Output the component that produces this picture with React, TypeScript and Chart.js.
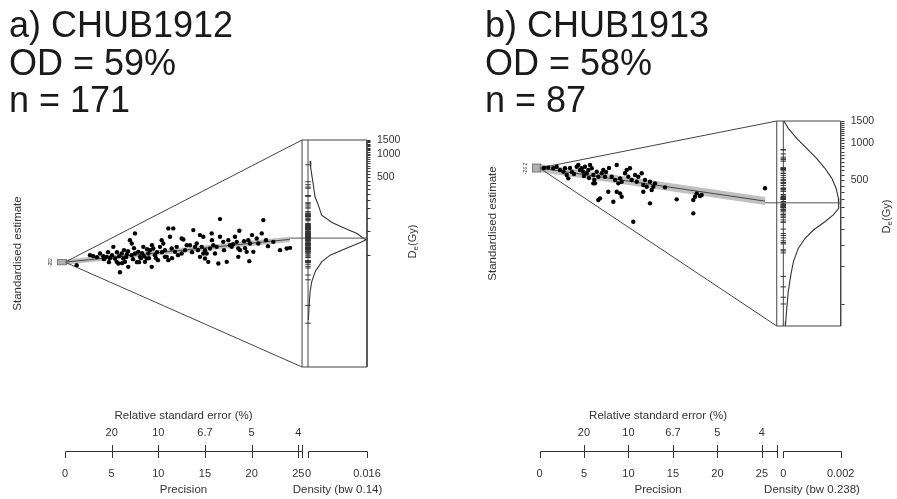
import React, { useEffect, useRef } from "react";
import { Chart, registerables } from "chart.js";

Chart.register(...registerables);

const FONT = '"Liberation Sans", Arial, Helvetica, sans-serif';

// ---------------- Panel a) CHUB1912 ----------------
const titleLinesA = ["a) CHUB1912", "OD = 59%", "n = 171"];
const precisionA = [
  1.25, 2.68, 3.03, 3.75, 4.10, 4.47, 4.82, 5.18, 5.36, 5.54,
  5.71, 5.89, 6.08, 6.25, 6.43, 6.78, 6.96, 7.15, 7.50, 7.15,
  7.50, 7.85, 8.04, 8.39, 8.57, 8.75, 8.93, 9.11, 9.29, 9.46,
  9.64, 10.36, 10.53, 10.71, 10.90, 11.07, 11.07, 11.25, 11.60, 11.43,
  11.79, 11.97, 10.18, 10.71, 4.61, 5.04, 6.54, 6.75, 7.29, 7.71,
  8.14, 9.86, 9.96, 12.11, 5.79, 6.32, 8.25, 8.79, 12.68, 13.04,
  13.75, 14.46, 14.82, 14.65, 15.00, 15.18, 14.82, 14.46, 15.00, 15.35,
  15.72, 15.89, 16.25, 16.07, 16.43, 16.61, 16.61, 16.96, 17.33, 17.50,
  17.68, 17.86, 18.21, 18.40, 18.57, 18.75, 18.68, 18.57, 19.47, 19.64,
  19.82, 19.75, 20.18, 20.54, 20.71, 21.08, 21.25, 22.32, 23.04, 23.75,
  24.11, 12.50, 13.39, 13.93, 15.54, 19.29, 18.00, 14.11, 12.50,
  3.43, 4.18, 4.71, 5.57, 6.11, 6.64, 7.39, 7.93, 8.46, 9.00,
  9.32, 9.75, 10.39, 11.46, 12.86, 13.61, 14.25, 15.75, 17.04, 19.18,
  20.04, 21.54, 21.75,
];
const stdEstimateA = [
  -2.26, 5.28, 4.52, 6.56, 4.52, 3.99, 3.01, 11.53, 2.79, 0.23,
  -0.98, -7.54, 6.56, 2.79, 0.23, -3.54, 16.58, 14.09, 21.63, 5.28,
  6.56, 7.76, 3.99, 11.53, 0.23, 2.79, 6.56, 9.04, -3.54, 10.32,
  5.28, 16.58, 14.09, 9.04, 3.99, 1.51, 25.40, 19.07, 25.40, 10.32,
  7.76, 11.53, 11.53, 3.99, 7.54, 5.28, 3.77, 8.29, 2.26, 0,
  3.01, 7.54, 1.51, 5.28, 4.52, 9.04, 6.78, 9.80, 17.11, 12.81,
  24.12, 20.35, 19.07, 11.53, 9.04, 6.56, 6.56, 3.99, 2.79, 0.23,
  21.63, 12.81, 11.53, 6.56, -0.98, 32.40, 19.07, 15.30, 0.23, 16.58,
  12.81, 11.53, 19.07, 15.30, 10.32, 9.04, 23.59, 3.99, 7.76, 16.58,
  14.09, 0.75, 7.76, 17.86, 14.09, 21.63, 31.65, 15.30, 9.04, 10.32,
  10.78, 6.56, 12.81, 11.53, 10.32, 10.55, 13.56, 14.09, 17.86,
  3.77, 2.26, 0, 7.54, -0.75, 6.03, 10.55, 0, 4.52, 3.01,
  12.81, 3.01, 7.54, 3.01, 9.04, 7.54, 9.04, 16.58, 9.04, 15.83,
  20.35, 16.58, 12.06,
];
const kdeDeA = [804, 653, 395, 279, 218, 162, 130, 109, 94, 81, 78, 72, 60, 49.5, 40.5, 30.1, 22.4, 16.6, 11.2, 7.2];
const kdeDensityA = [
  0.00055, 0.00074, 0.00144, 0.0019, 0.0028, 0.0037, 0.0065, 0.0101, 0.0133, 0.0151,
  0.0158, 0.0142, 0.0101, 0.006, 0.0037, 0.0019, 0.001, 0.00055, 0.0003, 0.0001,
];
const referenceDeA = 40.2;
const centralDeA = 82;
const minDeA = 1.8;
const maxDeA = 1500;
const bandwidthA = "0.14";
const densityTickValuesA = [0, 0.016];
const densityTickLabelsA = ["0", "0.016"];

// ---------------- Panel b) CHUB1913 ----------------
const titleLinesB = ["b) CHUB1913", "OD = 58%", "n = 87"];
const precisionB = [
  0.99, 1.55, 1.93, 2.30, 2.68, 2.87, 3.06, 3.24, 4.18, 4.36,
  4.55, 4.74, 4.92, 5.11, 5.31, 5.49, 5.68, 5.87, 6.05, 6.16,
  6.24, 6.43, 6.61, 6.99, 7.36, 7.17, 8.68, 7.73, 6.80, 6.61,
  8.30, 8.12, 8.49, 8.86, 9.05, 9.24, 9.61, 9.80, 9.98, 10.17,
  10.36, 10.74, 10.93, 11.11, 11.49, 11.67, 11.86, 12.05, 12.42, 8.68,
  9.05, 9.24, 10.54, 12.42, 11.67, 12.98, 12.79, 12.61, 14.11, 15.42,
  17.29, 17.48, 17.67, 18.04, 18.23, 17.29, 25.35, 6.05, 3.65, 3.43,
  0.51, 7.48, 7.81, 5.56, 5.00, 3.88,
];
const stdEstimateB = [
  0.2, -0.15, 0.65, -0.99, -1.84, -0.15, -3.48, -5.12, 0.65, 1.49,
  -0.99, -0.15, -1.84, 0.65, -2.63, -0.99, 1.49, -0.15, -3.48, -5.96,
  -7.60, -1.84, -4.32, -2.63, -4.32, -0.99, 1.49, -11.77, -15.05, -15.90,
  -16.74, -4.32, -5.96, -7.60, -5.12, -6.81, -2.63, -0.99, -4.32, -0.15,
  -5.96, -3.48, -6.81, -4.32, -2.63, -8.45, -5.96, -9.29, -6.81, -11.77,
  -12.57, -14.26, -26.68, -17.54, -11.77, -7.60, -9.29, -10.93, -9.59, -15.55,
  -15.90, -14.26, -12.57, -13.91, -13.41, -22.50, -10.08, -7.60, -1.99, 0,
  0, -1.99, 0, -4.97, -3.97, -2.98,
];
const kdeDeB = [1500, 1309, 1086, 902, 749, 622, 516, 429, 356, 324, 295, 261, 230, 197, 169, 140, 109, 85, 62, 45.8, 35.7, 33];
const kdeDensityB = [
  0.00002, 0.000174, 0.000467, 0.000815, 0.00116, 0.00145, 0.00169, 0.00184, 0.00192, 0.00194,
  0.00192, 0.00174, 0.00145, 0.00105, 0.00076, 0.00052, 0.00035, 0.00026, 0.00017, 0.00012,
  0.000084, 0.00007,
];
const referenceDeB = 625;
const centralDeB = 327;
const minDeB = 33;
const maxDeB = 1500;
const bandwidthB = "0.238";
const densityTickValuesB = [0, 0.002];
const densityTickLabelsB = ["0", "0.002"];

// ---------------- Shared tick labels ----------------
const precisionTicks = [0, 5, 10, 15, 20, 25];
const rseTickPrecision = [5, 10, 15, 20, 25];
const rseTickLabels = ["20", "10", "6.7", "5", "4"];
const deLabelValues = [500, 1000, 1500];
const deMinorTicks = [
  50, 100, 150, 200, 250, 300, 350, 400, 450, 500, 550, 600, 650, 700, 750,
  800, 850, 900, 950, 1000, 1050, 1100, 1150, 1200, 1250, 1300, 1350, 1400, 1450, 1500,
];
const stdTicks = [-2, 0, 2];

// ---------------- Layout (positions only) ----------------
const layoutA = {
  left: 0, width: 448, titleLeft: 9,
  pad: { left: 65, right: 81, top: 140, bottom: 132 },
  pEnd: 25.4, pBand: 24.1, pDens0: 26.04, pRight: 32.36,
  deLabelDy: -12,
};
const layoutB = {
  left: 448, width: 449, titleLeft: 37,
  pad: { left: 91.5, right: 56.3, top: 121, bottom: 173 },
  pEnd: 26.67, pBand: 25.35, pDens0: 27.41, pRight: 33.86,
  deLabelDy: -7,
};

const panelA = {
  title: titleLinesA, precision: precisionA, std: stdEstimateA, kdeDe: kdeDeA, kdeDensity: kdeDensityA,
  referenceDe: referenceDeA, centralDe: centralDeA, minDe: minDeA, maxDe: maxDeA, bw: bandwidthA,
  densTicks: densityTickValuesA, densLabels: densityTickLabelsA, layout: layoutA,
};
const panelB = {
  title: titleLinesB, precision: precisionB, std: stdEstimateB, kdeDe: kdeDeB, kdeDensity: kdeDensityB,
  referenceDe: referenceDeB, centralDe: centralDeB, minDe: minDeB, maxDe: maxDeB, bw: bandwidthB,
  densTicks: densityTickValuesB, densLabels: densityTickLabelsB, layout: layoutB,
};

function buildChart(canvas: HTMLCanvasElement, P: any) {
  const L = P.layout;
  const lnRef = Math.log(P.referenceDe);
  const toS = (de: number) => (Math.log(de) - lnRef) * L.pEnd;
  const sMax = toS(P.maxDe);
  const sMin = toS(P.minDe);
  const cSlope = Math.log(P.centralDe) - lnRef;
  const densMax = P.densTicks[P.densTicks.length - 1];
  const dScale = (L.pRight - L.pDens0) / densMax;

  const points = P.precision.map((p: number, i: number) => ({ x: p, y: P.std[i] }));
  const rug = P.precision.map((p: number, i: number) => ({ x: L.pDens0, y: (P.std[i] / p) * L.pEnd }));
  const kde = P.kdeDe.map((de: number, i: number) => ({ x: L.pDens0 + P.kdeDensity[i] * dScale, y: toS(de) }));

  const lineDs = (data: any[], color: string, width = 1, order = 2) => ({
    type: "line" as const, data, showLine: true, borderColor: color, borderWidth: width,
    pointRadius: 0, fill: false, tension: 0, clip: false as any, order,
  });

  const datasets: any[] = [
    {
      data: points, showLine: false, pointRadius: 2.2, pointBackgroundColor: "#000",
      pointBorderWidth: 0, pointBorderColor: "#000", clip: false, order: 0,
    },
    {
      data: rug, showLine: false, pointStyle: "line", pointRadius: 2.7, pointBorderWidth: 1,
      pointBorderColor: "#333", clip: false, order: 1,
    },
    // triangle
    lineDs([{ x: L.pEnd, y: sMax }, { x: 0, y: 0 }, { x: L.pEnd, y: sMin }, { x: L.pEnd, y: sMax }], "#444"),
    // density box
    lineDs([{ x: L.pEnd, y: sMax }, { x: L.pRight, y: sMax }, { x: L.pRight, y: sMin }, { x: L.pEnd, y: sMin }], "#444"),
    // rug baseline
    lineDs([{ x: L.pDens0, y: sMin }, { x: L.pDens0, y: sMax }], "#444"),
    // central line
    lineDs([{ x: 0, y: 0 }, { x: L.pBand, y: cSlope * L.pBand }], "#444"),
    lineDs([{ x: L.pBand, y: cSlope * L.pEnd }, { x: L.pRight, y: cSlope * L.pEnd }], "#555"),
    // KDE curve
    lineDs(kde, "#333", 1.1),
    // central band
    {
      type: "line", showLine: true, clip: false, order: 3, pointRadius: 0, tension: 0,
      data: [
        { x: 0, y: -2 }, { x: L.pBand, y: cSlope * L.pBand - 2 },
        { x: L.pBand, y: cSlope * L.pBand + 2 }, { x: 0, y: 2 }, { x: 0, y: -2 },
      ],
      borderColor: "rgba(0,0,0,0)", borderWidth: 0, backgroundColor: "rgba(140,140,140,0.55)", fill: "shape",
    },
  ];

  const axesPlugin = {
    id: "abanicoAxes",
    afterDraw(chart: any) {
      const ctx = chart.ctx as CanvasRenderingContext2D;
      const xs = chart.scales.x;
      const ys = chart.scales.y;
      const X = (v: number) => xs.getPixelForValue(v);
      const Y = (v: number) => ys.getPixelForValue(v);
      const sx = (v: number) => Math.round(X(v)) + 0.5;
      const sy = (v: number) => Math.round(Y(v)) + 0.5;
      const line = (x1: number, y1: number, x2: number, y2: number) => {
        ctx.beginPath(); ctx.moveTo(x1, y1); ctx.lineTo(x2, y2); ctx.stroke();
      };
      ctx.save();
      ctx.strokeStyle = "#333";
      ctx.fillStyle = "#333";
      ctx.lineWidth = 1;

      // small 2-sigma bar at the apex
      ctx.save();
      ctx.fillStyle = "rgba(150,150,150,0.75)";
      ctx.strokeStyle = "#666";
      ctx.lineWidth = 0.8;
      const bx0 = X(-0.8), bx1 = X(0.15), by0 = Y(2), by1 = Y(-2);
      ctx.fillRect(bx0, by0, bx1 - bx0, by1 - by0);
      ctx.strokeRect(bx0, by0, bx1 - bx0, by1 - by0);
      ctx.restore();

      const ay = 451.5;
      const tk = 6.5;
      // precision axis
      line(sx(0), ay, sx(L.pEnd), ay);
      precisionTicks.forEach((t) => line(sx(t), ay, sx(t), ay + tk));
      rseTickPrecision.forEach((t) => line(sx(t), ay - tk, sx(t), ay));
      line(sx(L.pEnd), ay - tk, sx(L.pEnd), ay + tk);
      // density axis
      const dx = (d: number) => L.pDens0 + d * dScale;
      line(sx(dx(P.densTicks[0])), ay, sx(dx(densMax)), ay);
      P.densTicks.forEach((d: number) => line(sx(dx(d)), ay, sx(dx(d)), ay + tk));

      ctx.font = `11px ${FONT}`;
      ctx.textAlign = "center";
      ctx.textBaseline = "middle";
      precisionTicks.forEach((t) => ctx.fillText(String(t), X(t), 474));
      rseTickPrecision.forEach((t, i) => ctx.fillText(rseTickLabels[i], X(t), 432.5));
      P.densTicks.forEach((d: number, i: number) => ctx.fillText(P.densLabels[i], X(dx(d)), 474));
      const midP = (X(0) + X(L.pEnd)) / 2;
      ctx.font = `11.5px ${FONT}`;
      ctx.fillText("Relative standard error (%)", midP, 416);
      ctx.fillText("Precision", midP, 490);
      ctx.fillText(`Density (bw ${P.bw})`, (X(L.pDens0) + X(L.pRight)) / 2, 490);

      // right De axis
      const xr = sx(L.pRight);
      deMinorTicks.forEach((v) => {
        const s = toS(v);
        if (s >= sMin - 0.01 && s <= sMax + 0.01) line(xr, sy(s), xr + 3, sy(s));
      });
      ctx.font = `10.5px ${FONT}`;
      ctx.textAlign = "left";
      deLabelValues.forEach((v) => ctx.fillText(String(v), X(L.pRight) + 10, Y(toS(v))));

      // left axis title
      const area = chart.chartArea;
      const midY = (area.top + area.bottom) / 2;
      ctx.save();
      ctx.translate(X(0) - 47, midY);
      ctx.rotate(-Math.PI / 2);
      ctx.textAlign = "center";
      ctx.font = `11.5px ${FONT}`;
      ctx.fillText("Standardised estimate", 0, 0);
      ctx.restore();

      // tiny std ticks
      ctx.font = `5px ${FONT}`;
      stdTicks.forEach((t) => {
        ctx.save();
        ctx.translate(X(0) - 14, Y(t));
        ctx.rotate(-Math.PI / 2);
        ctx.textAlign = "center";
        ctx.fillText(String(t), 0, 0);
        ctx.restore();
      });

      // De(Gy) title
      ctx.save();
      ctx.translate(X(L.pRight) + 46, midY + L.deLabelDy);
      ctx.rotate(-Math.PI / 2);
      ctx.textBaseline = "middle";
      ctx.textAlign = "left";
      ctx.font = `11px ${FONT}`;
      const wD = ctx.measureText("D").width;
      const wG = ctx.measureText("(Gy)").width;
      ctx.font = `8px ${FONT}`;
      const wE = ctx.measureText("e").width;
      const x0 = -(wD + wE + wG) / 2;
      ctx.font = `11px ${FONT}`;
      ctx.fillText("D", x0, 0);
      ctx.font = `8px ${FONT}`;
      ctx.fillText("e", x0 + wD, 3);
      ctx.font = `11px ${FONT}`;
      ctx.fillText("(Gy)", x0 + wD + wE, 0);
      ctx.restore();

      ctx.restore();
    },
  };

  return new Chart(canvas, {
    type: "scatter",
    data: { datasets },
    options: {
      animation: false,
      responsive: false,
      devicePixelRatio: 1,
      events: [],
      layout: { padding: L.pad },
      plugins: { legend: { display: false }, tooltip: { enabled: false } },
      scales: {
        x: { type: "linear", display: false, min: 0, max: L.pRight },
        y: { type: "linear", display: false, min: sMin, max: sMax },
      },
    },
    plugins: [axesPlugin],
  } as any);
}

function Panel({ panel }: { panel: any }) {
  const ref = useRef<HTMLCanvasElement>(null);
  const L = panel.layout;
  useEffect(() => {
    if (!ref.current) return;
    const chart = buildChart(ref.current, panel);
    return () => chart.destroy();
  }, [panel]);
  return (
    <div style={{ position: "absolute", left: L.left, top: 0, width: L.width, height: 499 }}>
      <canvas
        ref={ref}
        width={L.width}
        height={499}
        style={{ position: "absolute", left: 0, top: 0, width: L.width, height: 499 }}
      />
      <div
        style={{
          position: "absolute", left: L.titleLeft, top: 6, fontFamily: FONT, fontSize: 36,
          lineHeight: "37.5px", color: "#1a1a1a", whiteSpace: "pre",
        }}
      >
        {panel.title.map((t: string) => (
          <div key={t}>{t}</div>
        ))}
      </div>
    </div>
  );
}

export default function App() {
  return (
    <div
      style={{
        position: "fixed", left: 0, top: 0, width: 897, height: 499, background: "#fff", overflow: "hidden",
      }}
    >
      <Panel panel={panelA} />
      <Panel panel={panelB} />
    </div>
  );
}
